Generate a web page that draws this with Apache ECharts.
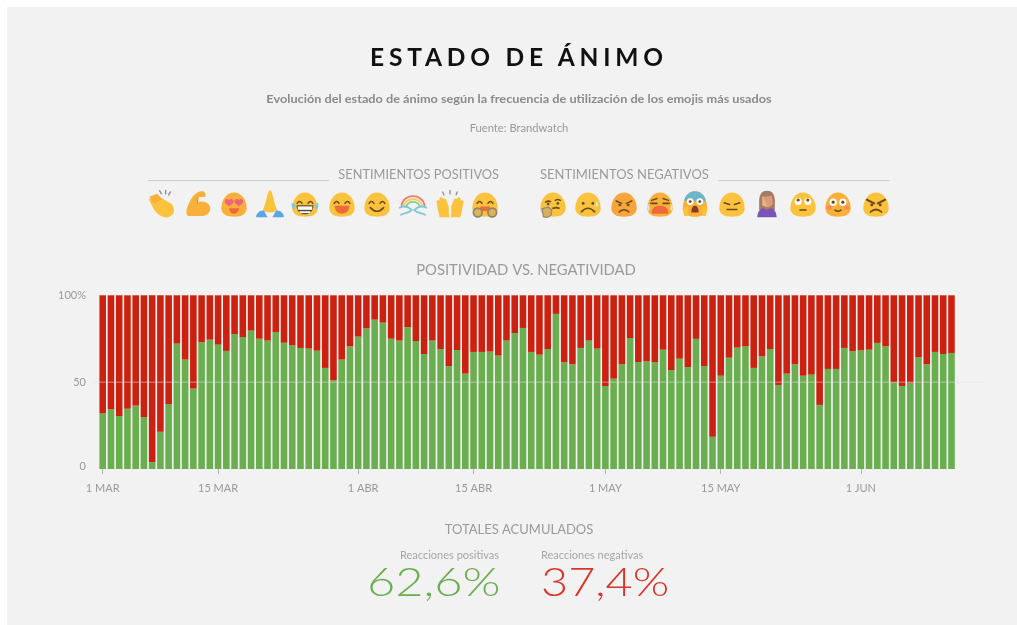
<!DOCTYPE html>
<html lang="es">
<head>
<meta charset="utf-8">
<title>Estado de ánimo</title>
<script src="https://cdn.jsdelivr.net/npm/echarts@6/dist/echarts.min.js"></script>
<style>
html,body{margin:0;padding:0;background:#fff;width:1017px;height:625px;overflow:hidden}
#card{position:absolute;left:7px;top:7px;width:1010px;height:618px;background:#f2f2f2}
#chart{position:absolute;left:0;top:0;width:1017px;height:625px}
#head{position:absolute;left:370px;top:42px;margin:0;font:700 24.5px/30px Lato,sans-serif;letter-spacing:4.8px;color:#111;white-space:nowrap;z-index:2}
</style>
</head>
<body>
<div id="card"></div>
<div id="chart"></div>
<h1 id="head">ESTADO DE ÁNIMO</h1>
<script>
const monthNames = ['MAR', 'ABR', 'MAY', 'JUN'];
const monthDays = [31, 30, 31, 12];
const tickDays = ['1 MAR', '15 MAR', '1 ABR', '15 ABR', '1 MAY', '15 MAY', '1 JUN'];
const yTicks = [0, 50, 100];
const positive = [32,34.4,30.5,34.7,36.5,29.9,4,21.5,37.4,72.2,63,46.3,73,74.5,71.6,68,77.7,76,79.7,75,
  73.9,78.9,72.7,71.2,69.7,69.3,68.1,58.2,51,63,70.6,76.2,81,86,84.3,75,73.9,81.6,73.7,66.2,
  73.9,69.1,59.3,68.5,54.9,67.4,67.4,67.6,65.3,73.9,78.3,81.2,67.4,65.8,69.1,89.3,61.4,60.3,69.7,73.9,
  69.3,47.8,52,60.3,75.4,61.6,62,61.6,68.7,57,63.5,58.7,74.9,59.3,18.6,53.7,64.1,69.9,70.6,58.2,
  64.9,69.1,48.4,54.9,60.3,53.7,54.3,36.9,57.6,57.6,69.7,67.9,68.3,68.7,72.6,70.6,49.9,47.8,49.7,64.3,
  60.3,67.4,66.2,66.8];
const negative = [68,65.6,69.5,65.3,63.5,70.1,96,78.5,62.6,27.8,37,53.7,27,25.5,28.4,32,22.3,24,20.3,25,
  26.1,21.1,27.3,28.8,30.3,30.7,31.9,41.8,49,37,29.4,23.8,19,14,15.7,25,26.1,18.4,26.3,33.8,
  26.1,30.9,40.7,31.5,45.1,32.6,32.6,32.4,34.7,26.1,21.7,18.8,32.6,34.2,30.9,10.7,38.6,39.7,30.3,26.1,
  30.7,52.2,48,39.7,24.6,38.4,38,38.4,31.3,43,36.5,41.3,25.1,40.7,81.4,46.3,35.9,30.1,29.4,41.8,
  35.1,30.9,51.6,45.1,39.7,46.3,45.7,63.1,42.4,42.4,30.3,32.1,31.7,31.3,27.4,29.4,50.1,52.2,50.3,35.7,
  39.7,32.6,33.8,33.2];
const totals = ['62,6%', '37,4%'];

const days = [];
monthNames.forEach((m, i) => { for (let d = 1; d <= monthDays[i]; d++) days.push(d + ' ' + m); });

/* ---- emoji pictures (24-unit artwork) ---- */
const Y = '#fbc33e', O = '#f8b03a', K = '#6b4a1c', P = '#f0637c', T = '#ee6a3a', B = '#5aa5e6', S = '#7fc8d8';
const blob = (c) => `<path d="M12 2.5C18 2.5 22.5 8.5 22.5 15.5C22.5 20.5 18 22.5 12 22.5C6 22.5 1.5 20.5 1.5 15.5C1.5 8.5 6 2.5 12 2.5Z" fill="${c||Y}"/>`;
const line = (d, c, w) => `<path d="${d}" fill="none" stroke="${c||K}" stroke-width="${w||1.3}" stroke-linecap="round"/>`;
const fill = (d, c) => `<path d="${d}" fill="${c}"/>`;
const dot = (x, y, r, c) => `<circle cx="${x}" cy="${y}" r="${r}" fill="${c||K}"/>`;
const happyEyes = line('M5.5 11.5Q7.5 8.5 9.5 11.5') + line('M14.5 11.5Q16.5 8.5 18.5 11.5');
const openMouth = fill('M6 13.5H18C18 18 15.5 20 12 20C8.5 20 6 18 6 13.5Z', T);
const emojiPos = [
  /* clap */ fill('M1 8L8 5L20 12C23 16 23 21 17 23C13 24 8 21 5 16Z', Y) + fill('M1.5 6L8 3.5L12 8L6 12Z', O) + line('M10 1L11.5 3.5M15 .5L15 3.5M19 2L17.5 4.5', '#8a8a8a', 1.1),
  /* muscle */ fill('M14 1.5C17 1 19 2.5 18 6L12 6.5L11.5 11C14 9 20 10 22 14C23 18 20 22 14 22H5C2 22 2 18 3 15C5 10 8 3 14 1.5Z', O) + line('M12 7L11.5 11', '#e08a20', 1),
  /* heart eyes */ blob(O) + fill('M4.5 11C3.5 8 7 7 8 9C9 7 12.5 8 11.5 11L8 14Z', P) + fill('M12.5 11C11.5 8 15 7 16 9C17 7 20.5 8 19.5 11L16 14Z', P) + fill('M8 15.5H16C16 18.5 14 20 12 20C10 20 8 18.5 8 15.5Z', T),
  /* pray */ fill('M12 0.5C13.5 1 14.5 6 15.5 10L18 18L12 19L6 18L8.5 10C9.5 6 10.5 1 12 0.5Z', Y) + fill('M0.5 23C0.5 19.5 4 17 7 17.5L10 23Z', B) + fill('M23.5 23C23.5 19.5 20 17 17 17.5L14 23Z', B),
  /* joy */ blob() + happyEyes + fill('M5 13H19C19 18 16 20.5 12 20.5C8 20.5 5 18 5 13Z', '#5b4a35') + fill('M6 14H18V16.8H6Z', '#fff') + fill('M7.5 18H16.5V19.5H7.5Z', '#fff') + fill('M1 11L4.5 13L2.5 17Q.5 15 1 11Z', S) + fill('M23 11L19.5 13L21.5 17Q23.5 15 23 11Z', S),
  /* grin */ blob() + happyEyes + openMouth,
  /* smile */ blob() + happyEyes + line('M6.5 15Q12 21 17.5 15') ,
  /* rainbow */ line('M2.5 13C4 3 20 3 21.5 13', '#f07a7a', 1.6) + line('M4.5 13.5C6 6 18 6 19.5 13.5', '#f9cd5a', 1.6) + line('M6.5 14C8 9 16 9 17.5 14', '#8fcf8a', 1.6) + line('M1 15C5 13 8 14 11 17C8 20 4 19 2 21M23 15C19 13 16 14 13 17C16 20 20 19 22 21', S, 1.5),
  /* raised hands */ fill('M0.8 10Q2 7.5 3.3 9.5V7.5Q4.6 5.5 6 7.5V8Q7.5 6.5 8.8 8.5L11 14V20L11.5 23H3.5L2 17Z', Y) + fill('M23.2 10Q22 7.5 20.7 9.5V7.5Q19.4 5.5 18 7.5V8Q16.5 6.5 15.2 8.5L13 14V20L12.5 23H20.5L22 17Z', Y) + line('M6 2L7 4.5M12 .8V3.8M18 2L17 4.5', '#8a8a8a', 1),
  /* hug */ blob() + happyEyes + fill('M8 14H16C16 17 14 18 12 18C10 18 8 17 8 14Z', T) + `<circle cx="6" cy="19" r="3.6" fill="#e0b25a" stroke="#8a8468" stroke-width="1.4"/><circle cx="18" cy="19" r="3.6" fill="#e0b25a" stroke="#8a8468" stroke-width="1.4"/>`
];
const emojiNeg = [
  /* thinking */ blob() + line('M6 10.5Q8 9 10 10M14 9Q16 7.5 18 9') + dot(8, 12, 1.1) + dot(16, 11.5, 1.1) + line('M12 15.5Q15 14.5 17 15.5') + fill('M3 16L8 14.5L11 17L10.5 21Q8 24 4 22.5Z', '#d8b05a') + line('M3 16L8 14.5L11 17L10.5 21Q8 24 4 22.5Z', '#8a8a8a', 1),
  /* sad tear */ blob() + dot(8, 11.5, 1.2) + dot(16, 11.5, 1.2) + line('M6.5 18.5Q12 12.5 17.5 18.5') + fill('M19 10Q21.5 13 19.5 14.5Q17.5 13 19 10Z', '#cfe6ee'),
  /* angry orange */ blob('#f8a63a') + line('M5.5 9.5L10 11.5M18.5 9.5L14 11.5') + dot(8.5, 12.8, 1.1) + dot(15.5, 12.8, 1.1) + line('M8 18.5Q12 15 16 18.5'),
  /* crying */ blob(O) + line('M5 9L9.5 7.5M19 9L14.5 7.5') + line('M4.5 11.5L9.5 11.5M14.5 11.5L19.5 11.5') + fill('M5 20C5 15 8 13.5 12 13.5C16 13.5 19 15 19 20Z', T) + fill('M2 12Q4.5 15 2.5 18Q1 15 2 12Z', '#d8eaf0') + fill('M22 12Q19.5 15 21.5 18Q23 15 22 12Z', '#d8eaf0'),
  /* scream */ fill('M12 1.5C18 1.5 22 8 22 15C22 20 18 22.5 12 22.5C6 22.5 2 20 2 15C2 8 6 1.5 12 1.5Z', O) + fill('M12 1.5C17 1.5 20.5 5.5 21 9.5H3C3.5 5.5 7 1.5 12 1.5Z', '#6db5c9') + `<circle cx="8" cy="10" r="2.8" fill="#fff"/><circle cx="16" cy="10" r="2.8" fill="#fff"/>` + dot(8, 10, 1.2) + dot(16, 10, 1.2) + fill('M9 19C9 15 10.5 13.5 12 13.5C13.5 13.5 15 15 15 19Z', '#8a3a20') + fill('M1.5 15L6 14V22L3 22Z', Y) + fill('M22.5 15L18 14V22L21 22Z', Y),
  /* expressionless */ blob() + line('M5.5 11L10 12.5M18.5 11L14 12.5') + line('M8 16.5H16'),
  /* facepalm */ fill('M12 1C17 1 18.5 5 18.5 10V17H5.5V10C5.5 5 7 1 12 1Z', '#a87a5e') + fill('M8 6H16V13Q12 16 8 13Z', '#e8b08c') + fill('M9 7L16 5L17 12L13 15Z', '#d89c78') + fill('M4 23C4 18 7 15.5 9 15.5L12 17L15 15.5C17 15.5 20 18 20 23Z', '#7a52b8'),
  /* eye roll */ blob() + `<circle cx="8" cy="10" r="2.9" fill="#fff"/><circle cx="16" cy="10" r="2.9" fill="#fff"/>` + dot(8, 8.7, 1.3) + dot(16, 8.7, 1.3) + line('M9.5 17H14.5'),
  /* flushed */ blob(O) + `<circle cx="8" cy="10.5" r="3" fill="#fff"/><circle cx="16" cy="10.5" r="3" fill="#fff"/>` + dot(8, 10.5, 1.3) + dot(16, 10.5, 1.3) + `<ellipse cx="4.8" cy="15" rx="2.4" ry="1.8" fill="#f58d5a"/><ellipse cx="19.2" cy="15" rx="2.4" ry="1.8" fill="#f58d5a"/>` + line('M9.5 17Q12 19 14.5 17'),
  /* angry */ blob() + line('M4.5 8.5L10.5 11.5M19.5 8.5L13.5 11.5', K, 1.7) + dot(8.5, 12.8, 1.2) + dot(15.5, 12.8, 1.2) + line('M7.5 18.5Q12 14.5 16.5 18.5', K, 1.5)
];
const emojiPosX = [162, 198, 234, 270, 305, 342, 377, 413, 450, 485];
const emojiNegX = [553, 588, 624, 660, 695, 732, 767, 803, 838, 876];
const emojiY = 204, emojiSize = 29;
const emojiUri = (art) => 'data:image/svg+xml;charset=utf-8,' + encodeURIComponent(
  `<svg xmlns="http://www.w3.org/2000/svg" width="87" height="87" viewBox="0 0 24 24"><defs><filter id="b"><feGaussianBlur stdDeviation=".2"/></filter></defs><g filter="url(#b)">${art}</g></svg>`);
const emojiImages = (arts, xs) => arts.map((a, i) => ({
  type: 'image', silent: true,
  style: { image: emojiUri(a), x: xs[i] - emojiSize / 2, y: emojiY - emojiSize / 2, width: emojiSize, height: emojiSize }
}));

const txt = (text, x, y, size, color, align, weight, extra) => ({
  type: 'text', silent: true, x, y, ...(extra || {}),
  style: { text, fill: color, font: `${weight || 400} ${size}px Lato, sans-serif`, textAlign: align || 'center', textVerticalAlign: 'middle' }
});
const rule = (x1, x2, y) => ({ type: 'line', silent: true, shape: { x1, y1: y, x2, y2: y }, style: { stroke: '#cfcfcf', lineWidth: 1 } });

const isTick = (i) => tickDays.includes(days[i]);
const chart = echarts.init(document.getElementById('chart'), null, { width: 1017, height: 625 });
const option = {
  backgroundColor: 'transparent',
  animation: false,
  grid: { left: 98.6, width: 857, top: 295.3, height: 173.7 },
  xAxis: {
    type: 'category', data: days,
    axisLine: { show: false },
    axisTick: { show: true, alignWithLabel: true, length: 5, interval: isTick, lineStyle: { color: '#b5b5b5' } },
    axisLabel: {
      interval: isTick, margin: 14, color: '#999', fontFamily: 'Lato', fontSize: 11,
      formatter: (v) => v === tickDays[2] ? '{s|' + v + '}' : v,
      rich: { s: { color: '#999', fontFamily: 'Lato', fontSize: 11, padding: [0, 0, 0, 10] } }
    }
  },
  yAxis: {
    type: 'value', min: 0, max: 100, interval: 50,
    axisLine: { show: false }, axisTick: { show: false }, splitLine: { show: false },
    axisLabel: {
      margin: 12.6, color: '#999', fontFamily: 'Lato', fontSize: 11,
      formatter: (v) => v === yTicks[0] ? '{z|0}' : v === yTicks[2] ? v + '%' : String(v),
      rich: { z: { color: '#999', fontFamily: 'Lato', fontSize: 11, padding: [0, 0, 6, 0] } }
    }
  },
  series: [
    { name: 'Reacciones positivas', type: 'bar', stack: 'a', barWidth: '80%', data: positive, itemStyle: { color: '#6aae50' } },
    { name: 'Reacciones negativas', type: 'bar', stack: 'a', barWidth: '80%', data: negative, itemStyle: { color: '#cb2110' } }
  ]
};
chart.setOption(option);
const y50 = chart.convertToPixel({ yAxisIndex: 0 }, yTicks[1]);
chart.setOption({
  graphic: [
    txt('Evolución del estado de ánimo según la frecuencia de utilización de los emojis más usados', 519, 99, 12, '#8a8a8a', 'center', 700, { scaleX: 1.06 }),
    txt('Fuente: Brandwatch', 519, 128, 11.2, '#999'),
    txt('SENTIMIENTOS POSITIVOS', 499, 175, 12.8, '#9a9a9a', 'right'),
    txt('SENTIMIENTOS NEGATIVOS', 540, 175, 13, '#9a9a9a', 'left'),
    rule(148, 329, 180.5), rule(718, 890, 180.5),
    ...emojiImages(emojiPos, emojiPosX), ...emojiImages(emojiNeg, emojiNegX),
    txt('POSITIVIDAD VS. NEGATIVIDAD', 526, 270, 14.8, '#9a9a9a'),
    { type: 'line', silent: true, z: 10, shape: { x1: 93, y1: y50, x2: 983, y2: y50 }, style: { stroke: 'rgba(226,226,226,.55)', lineWidth: 1 } },
    txt('TOTALES ACUMULADOS', 519, 530, 13, '#9a9a9a'),
    txt('Reacciones positivas', 499, 555, 11, '#a5a5a5', 'right'),
    txt('Reacciones negativas', 541, 555, 11, '#a5a5a5', 'left'),
    txt(totals[0], 367, 583, 39, '#6aae50', 'left', 300, { scaleX: 1.25 }),
    txt(totals[1], 541, 583, 39, '#d8352a', 'left', 300, { scaleX: 1.2 })
  ]
});
</script>
</body>
</html>
